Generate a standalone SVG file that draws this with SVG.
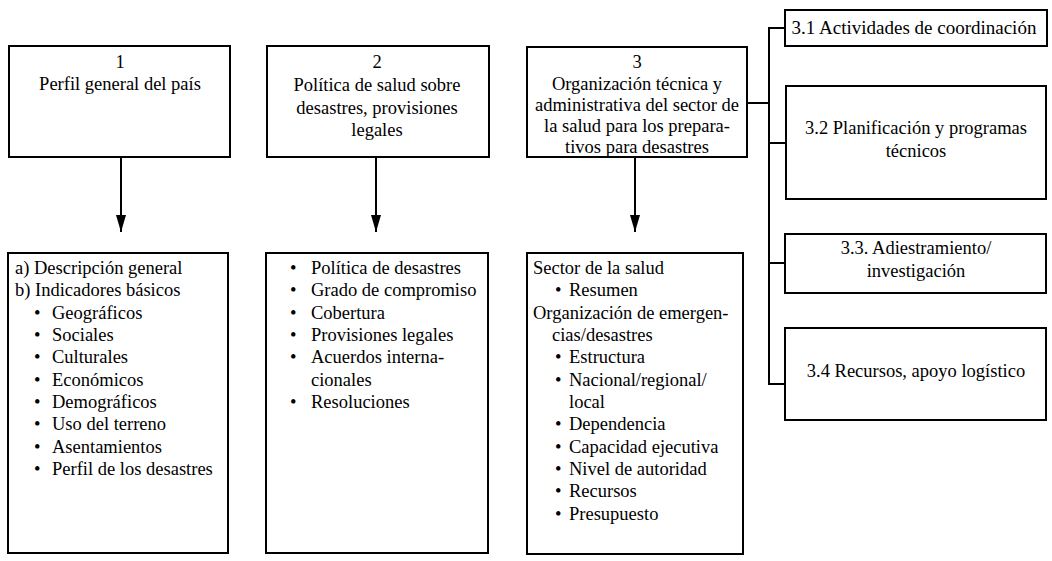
<svg xmlns="http://www.w3.org/2000/svg" width="1052" height="561" viewBox="0 0 1052 561" font-family="'Liberation Serif', 'Times New Roman', serif">
<style>
  .box { fill: #fff; stroke: #000; stroke-width: 2; }
  .t { font-family: "Liberation Serif", "Times New Roman", serif; font-size: 18.5px; fill: #000; }
  .c { text-anchor: middle; }
  .line { stroke: #000; stroke-width: 2; fill: none; }
</style>
<defs>
  <marker id="arr" markerWidth="18" markerHeight="10" refX="17" refY="5" orient="auto" markerUnits="userSpaceOnUse" viewBox="0 0 18 10">
    <path d="M0,0 L17,5 L0,10 Z" fill="#000"/>
  </marker>
</defs>
<rect width="1052" height="561" fill="#fff"/>

<g id="connectors">
  <line class="line" x1="121" y1="157" x2="121" y2="232" marker-end="url(#arr)"/>
  <line class="line" x1="376" y1="157" x2="376" y2="232" marker-end="url(#arr)"/>
  <line class="line" x1="635" y1="157" x2="635" y2="232" marker-end="url(#arr)"/>
  <line class="line" x1="747" y1="103" x2="769" y2="103"/>
  <line class="line" x1="769" y1="28" x2="769" y2="384"/>
  <line class="line" x1="768" y1="28" x2="785" y2="28"/>
  <line class="line" x1="768" y1="143" x2="786" y2="143"/>
  <line class="line" x1="768" y1="263" x2="785" y2="263"/>
  <line class="line" x1="768" y1="384" x2="785" y2="384"/>
</g>

<g id="node1">
  <rect class="box" x="9" y="46" width="221" height="111"/>
  <text class="t c" x="120" y="68">1</text>
  <text class="t c" x="120" y="90">Perfil general del país</text>
</g>

<g id="node2">
  <rect class="box" x="267" y="46" width="222" height="111"/>
  <text class="t c" x="377" y="68">2</text>
  <text class="t c" x="377" y="91">Política de salud sobre</text>
  <text class="t c" x="377" y="114">desastres, provisiones</text>
  <text class="t c" x="377" y="136">legales</text>
</g>

<g id="node3">
  <rect class="box" x="527" y="47" width="220" height="110"/>
  <text class="t c" x="637" y="68">3</text>
  <text class="t c" x="637" y="90">Organización técnica y</text>
  <text class="t c" x="637" y="111">administrativa del sector de</text>
  <text class="t c" x="637" y="132">la salud para los prepara-</text>
  <text class="t c" x="637" y="153">tivos para desastres</text>
</g>

<g id="node31">
  <rect class="box" x="785" y="10" width="262" height="36"/>
  <text class="t c" x="914" y="34" style="font-size:19px">3.1 Actividades de coordinación</text>
</g>

<g id="node32">
  <rect class="box" x="786" y="86" width="260" height="113"/>
  <text class="t c" x="916" y="134">3.2 Planificación y programas</text>
  <text class="t c" x="916" y="157">técnicos</text>
</g>

<g id="node33">
  <rect class="box" x="785" y="234" width="261" height="59"/>
  <text class="t c" x="916" y="254">3.3. Adiestramiento/</text>
  <text class="t c" x="916" y="277">investigación</text>
</g>

<g id="node34">
  <rect class="box" x="785" y="328" width="261" height="92"/>
  <text class="t c" x="916" y="377">3.4 Recursos, apoyo logístico</text>
</g>

<g id="list1">
  <rect class="box" x="8" y="253" width="220" height="300"/>
  <text class="t" x="15" y="274">a) Descripción general</text>
  <text class="t" x="15" y="296">b) Indicadores básicos</text>
  <g class="t">
    <text x="34" y="319">•</text><text x="52" y="319">Geográficos</text>
    <text x="34" y="341">•</text><text x="52" y="341">Sociales</text>
    <text x="34" y="363">•</text><text x="52" y="363">Culturales</text>
    <text x="34" y="386">•</text><text x="52" y="386">Económicos</text>
    <text x="34" y="408">•</text><text x="52" y="408">Demográficos</text>
    <text x="34" y="430">•</text><text x="52" y="430">Uso del terreno</text>
    <text x="34" y="453">•</text><text x="52" y="453">Asentamientos</text>
    <text x="34" y="475">•</text><text x="52" y="475">Perfil de los desastres</text>
  </g>
</g>

<g id="list2">
  <rect class="box" x="266" y="253" width="222" height="300"/>
  <g class="t">
    <text x="290" y="274">•</text><text x="311" y="274">Política de desastres</text>
    <text x="290" y="296">•</text><text x="311" y="296">Grado de compromiso</text>
    <text x="290" y="319">•</text><text x="311" y="319">Cobertura</text>
    <text x="290" y="341">•</text><text x="311" y="341">Provisiones legales</text>
    <text x="290" y="363">•</text><text x="311" y="363">Acuerdos interna-</text>
    <text x="311" y="386">cionales</text>
    <text x="290" y="408">•</text><text x="311" y="408">Resoluciones</text>
  </g>
</g>

<g id="list3">
  <rect class="box" x="527" y="253" width="216" height="301"/>
  <g class="t">
    <text x="533" y="274">Sector de la salud</text>
    <text x="555" y="296">•</text><text x="569" y="296">Resumen</text>
    <text x="533" y="319">Organización de emergen-</text>
    <text x="552" y="341">cias/desastres</text>
    <text x="555" y="363">•</text><text x="569" y="363">Estructura</text>
    <text x="555" y="386">•</text><text x="569" y="386">Nacional/regional/</text>
    <text x="569" y="408">local</text>
    <text x="555" y="430">•</text><text x="569" y="430">Dependencia</text>
    <text x="555" y="453">•</text><text x="569" y="453">Capacidad ejecutiva</text>
    <text x="555" y="475">•</text><text x="569" y="475">Nivel de autoridad</text>
    <text x="555" y="497">•</text><text x="569" y="497">Recursos</text>
    <text x="555" y="520">•</text><text x="569" y="520">Presupuesto</text>
  </g>
</g>
</svg>
